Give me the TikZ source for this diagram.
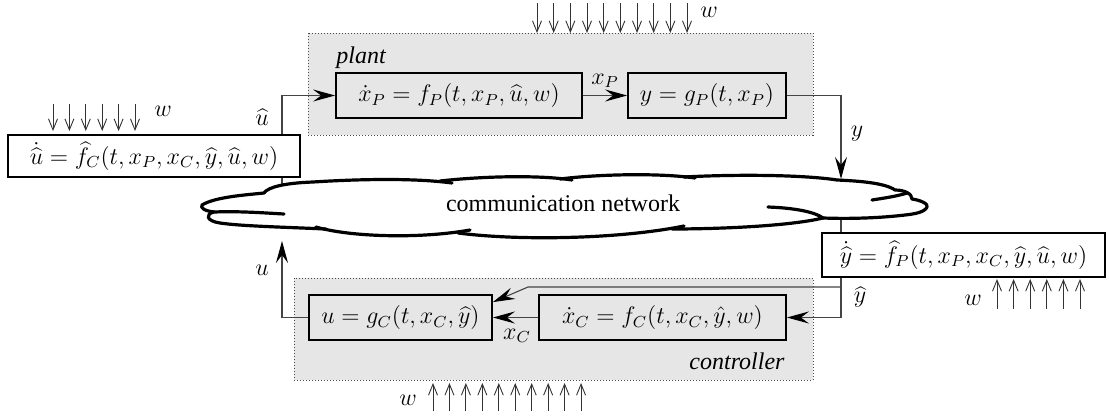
\documentclass[tikz,border=0pt,12pt]{standalone}
\usepackage[no-math]{fontspec}
\setmainfont{Liberation Serif}
\usetikzlibrary{arrows.meta,calc}
\definecolor{regionfill}{HTML}{E6E6E6}
\definecolor{conncol}{HTML}{444444}
\tikzset{
  region/.style={fill=regionfill, draw=black!70, densely dotted, line width=0.5pt},
  blk/.style={draw=black, line width=0.9pt, inner sep=0pt, anchor=center},
  whiteblk/.style={blk, fill=white},
  conn/.style={draw=conncol, line width=0.55pt},
  arr/.style={-{Stealth[length=11pt,width=6pt,inset=4pt,black]}},
  warr/.style={draw=black!80, line width=0.45pt, -{Straight Barb[length=5.5pt,width=4.5pt]}},
  lbl/.style={inner sep=0pt, anchor=center},
  cloudline/.style={draw=black, line width=1.6pt, line cap=round, line join=round},
}
\begin{document}
\begin{tikzpicture}[x=0.5pt,y=-0.5pt]
\useasboundingbox (0,0) rectangle (1109,418);

% regions
\path[region] (308,33) rectangle (813,135);
\path[region] (294,278) rectangle (813,380);
\node[lbl, font=\itshape] (plantlbl) at (361,58) {plant};
\node[lbl, font=\itshape] (ctrllbl) at (737,361) {controller};

% blocks inside regions
\node[blk, minimum width=123pt, minimum height=22.5pt] (xP) at (459,95.5) {$\dot{x}_P = f_P(t,x_P,\widehat{u},w)$};
\node[blk, minimum width=79pt, minimum height=22.5pt] (yP) at (707,95.5) {$y = g_P(t,x_P)$};
\node[blk, minimum width=91.5pt, minimum height=22.5pt] (u) at (400.5,317.5) {$u = g_C(t,x_C,\widehat{y})$};
\node[blk, minimum width=123.5pt, minimum height=22.5pt] (xC) at (662.5,317.5) {$\dot{x}_C = f_C(t,x_C,\hat{y},w)$};

% coordinates on the cloud
\coordinate (cuhat) at (282,200);
\coordinate (cyhat) at (841,205);
\coordinate (yin) at (841,179);
\coordinate (uin) at (282,241);
\coordinate (hyb) at (841,287);
\coordinate (bend) at (528,287);

% connectors that start inside the cloud / pass behind white blocks
\draw[conn,arr] (cuhat) |- (xP.west);
\draw[conn,arr] (cyhat) |- (xC.east);
\draw[conn,arr] (hyb) -- (bend) -- ($(u.north east)+(0,8)$);
\draw[conn,arr] (xP.east) -- (yP.west);
\draw[conn,arr] (xC.west) -- (u.east);

% cloud
\path[fill=white] (202,205)
  .. controls (215,197) and (245,195) .. (264,193)
  .. controls (268,187) and (285,183) .. (313,182)
  .. controls (360,179) and (415,178) .. (447,181)
  .. controls (485,176) and (540,175) .. (567,179)
  .. controls (600,174) and (660,173) .. (690,177)
  .. controls (740,174) and (805,175) .. (837,180)
  .. controls (860,181) and (885,183) .. (895,190)
  .. controls (905,190) and (912,194) .. (912,199)
  .. controls (920,200) and (929,204) .. (927,207)
  .. controls (925,212) and (915,214) .. (905,215)
  .. controls (880,218) and (850,219) .. (823,218)
  .. controls (790,226) and (720,229) .. (677,228)
  .. controls (620,239) and (520,241) .. (463,232)
  .. controls (420,239) and (350,237) .. (320,228)
  .. controls (280,227) and (240,226) .. (220,223)
  .. controls (206,221) and (205,214) .. (214,212)
  .. controls (205,211) and (200,208) .. (202,205) -- cycle;
\draw[cloudline] (214,212)
  .. controls (205,211) and (200,208) .. (202,205)
  .. controls (215,197) and (245,195) .. (264,193)
  .. controls (268,187) and (285,183) .. (313,182)
  .. controls (360,179) and (415,178) .. (452,183);
\draw[cloudline] (440,181) .. controls (485,176) and (540,175) .. (572,180);
\draw[cloudline] (560,179) .. controls (600,174) and (660,173) .. (695,178);
\draw[cloudline] (684,177) .. controls (740,174) and (805,175) .. (837,180)
  .. controls (860,181) and (885,183) .. (895,190)
  .. controls (905,190) and (912,194) .. (912,199)
  .. controls (920,200) and (929,204) .. (927,207)
  .. controls (925,212) and (915,214) .. (905,215)
  .. controls (880,218) and (850,219) .. (823,218);
\draw[cloudline] (768,207) .. controls (795,208) and (815,212) .. (823,218)
  .. controls (790,226) and (720,229) .. (672,229);
\draw[cloudline] (684,226) .. controls (620,239) and (520,241) .. (458,233);
\draw[cloudline] (470,230) .. controls (420,239) and (350,237) .. (316,227);
\draw[cloudline] (326,229) .. controls (280,227) and (240,226) .. (220,223)
  .. controls (206,221) and (205,214) .. (214,212)
  .. controls (240,211) and (265,213) .. (284,214);
\draw[cloudline] (872,200) .. controls (885,198) and (898,196) .. (907,193);
\node[lbl] (net) at (563,203) {communication network};

% arrows that end on the cloud
\draw[conn,arr] (yP.east) -| (yin);
\draw[conn,arr] (u.west) -| (uin);

% white blocks outside the regions
\node[whiteblk, minimum width=146pt, minimum height=21pt] (hu) at (154,156) {$\dot{\widehat{u}} = \widehat{f}_C(t,x_P,x_C,\widehat{y},\widehat{u},w)$};
\node[whiteblk, minimum width=141.5pt, minimum height=22pt] (hy) at (963.5,255) {$\dot{\widehat{y}} = \widehat{f}_P(t,x_P,x_C,\widehat{y},\widehat{u},w)$};

% connector labels
\node[lbl] (luhat) at (262,117) {$\widehat{u}$};
\node[lbl] (lxP) at (605,81) {$x_P$};
\node[lbl] (ly) at (857,134) {$y$};
\node[lbl] (lyhat) at (860,297) {$\widehat{y}$};
\node[lbl] (lu) at (262,270) {$u$};
\node[lbl] (lxC) at (517,336) {$x_C$};

% disturbances w
\foreach \i in {0,...,9} \draw[warr] ({537+16.67*\i},3) -- ({537+16.67*\i},33);
\node[lbl] (w1) at (709,12) {$w$};
\foreach \i in {0,...,5} \draw[warr] ({53+16.4*\i},104) -- ({53+16.4*\i},131);
\node[lbl] (w2) at (163,111) {$w$};
\foreach \i in {0,...,5} \draw[warr] ({997+16.6*\i},309) -- ({997+16.6*\i},279);
\node[lbl] (w3) at (973,300) {$w$};
\foreach \i in {0,...,9} \draw[warr] ({433+16.45*\i},411) -- ({433+16.45*\i},383);
\node[lbl] (w4) at (408,400) {$w$};
\end{tikzpicture}
\end{document}
